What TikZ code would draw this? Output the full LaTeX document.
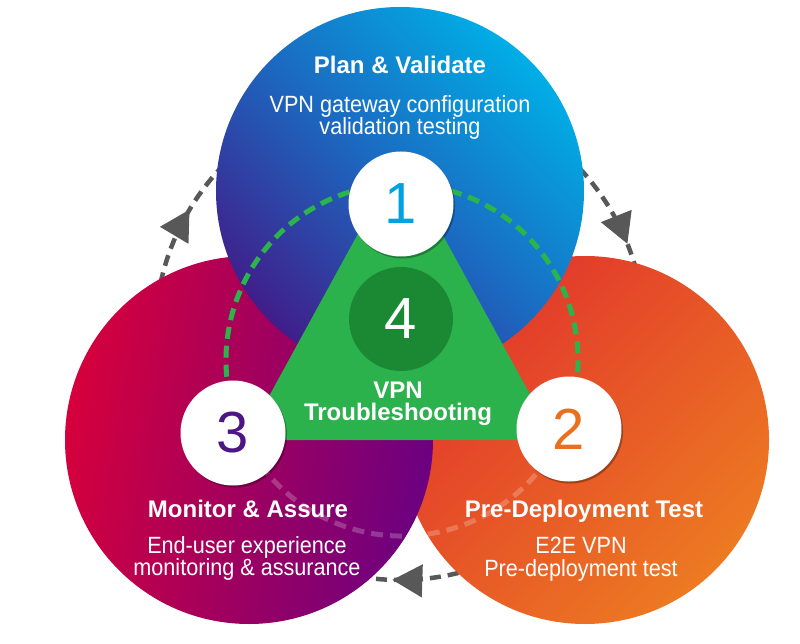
\documentclass[tikz,border=0pt]{standalone}
\usepackage{fontspec}
\setmainfont{Liberation Sans}
\newfontfamily\condfont{Liberation Sans}[FakeStretch=0.92]
\usetikzlibrary{arrows.meta,decorations.markings,shadows}
\definecolor{bluetop}{RGB}{0,174,230}
\definecolor{bluemid}{RGB}{28,104,192}
\definecolor{bluebot}{RGB}{64,30,138}
\definecolor{magleft}{RGB}{214,0,60}
\definecolor{magright}{RGB}{108,0,128}
\definecolor{orred}{RGB}{225,52,44}
\definecolor{ororange}{RGB}{237,122,34}
\definecolor{trigreen}{RGB}{43,178,76}
\definecolor{darkgreen}{RGB}{27,137,52}
\definecolor{dashgreen}{RGB}{44,180,76}
\definecolor{arrowgray}{RGB}{88,88,88}
\definecolor{numone}{RGB}{0,162,226}
\definecolor{numtwo}{RGB}{234,112,30}
\definecolor{numthree}{RGB}{78,22,132}
\begin{document}
\begin{tikzpicture}[x=1pt,y=-1pt,
  bigcirc/.style={circle, minimum size=368pt, inner sep=0pt},
  numcirc/.style={circle, fill=white, minimum size=105pt, inner sep=0pt,
    font=\fontsize{58}{58}\selectfont,
    drop shadow={shadow xshift=1.5pt, shadow yshift=-2pt, opacity=0.3, fill=black}},
  titletext/.style={anchor=base, text=white, inner sep=0pt, font=\fontsize{24}{26}\selectfont\bfseries},
  desctext/.style={anchor=base, text=white, inner sep=0pt, font=\condfont\fontsize{23.5}{25}\selectfont},
  cycarrow/.style={draw=arrowgray, color=arrowgray, line width=4.5pt, dash pattern=on 11pt off 7pt,
    decoration={markings, mark=at position #1 with {\arrow{Triangle[length=30pt,width=32pt]}}},
    postaction={decorate}},
  greendash/.style={draw=dashgreen, line width=5pt, dash pattern=on 12pt off 7pt},
  fadedash/.style={draw=white, draw opacity=0.22, line width=5pt, dash pattern=on 12pt off 7pt},
]
\useasboundingbox[fill=white] (0,0) rectangle (800,644);

% cycle arrows
\coordinate (cyc) at (400,335);
\draw[cycarrow=0.68] (cyc) ++(-47:245) arc[start angle=-47, end angle=-10, radius=245];
\draw[cycarrow=0.6] (cyc) ++(72:245) arc[start angle=72, end angle=105, radius=245];
\draw[cycarrow=0.6] (cyc) ++(188:245) arc[start angle=188, end angle=226, radius=245];

% big circles
\node[bigcirc, top color=orred, bottom color=ororange, shading angle=45] (orc) at (585,440) {};
\node[bigcirc, top color=magright, bottom color=magleft, shading angle=-100] (mgc) at (249,440) {};
\node[bigcirc, top color=bluetop, bottom color=bluebot, middle color=bluemid, shading angle=-45] (blc) at (400,191) {};

% dashed ring
\coordinate (dc) at (402,360);
\draw[greendash] (dc) ++(156:176) arc[start angle=156, end angle=382, radius=176];
\draw[fadedash] (dc) ++(22:176) arc[start angle=22, end angle=158, radius=176];

% triangle
\fill[trigreen] (400,157) -- (245,440) -- (555,440) -- cycle;
\node[circle, fill=darkgreen, minimum size=104pt, inner sep=0pt, text=white,
  font=\fontsize{58}{58}\selectfont] (n4) at (401,319) {4};

% number circles
\node[numcirc, text=numone] (n1) at (401,204) {1};
\node[numcirc, text=numtwo] (n2) at (569,429) {2};
\node[numcirc, text=numthree] (n3) at (233,433) {3};

% texts
\node[titletext] (t1) at (400,74) {Plan \& Validate};
\node[desctext] (d1a) at (400,113) {VPN gateway configuration};
\node[desctext] (d1b) at (400,135) {validation testing};

\node[titletext] (t3) at (248,517) {Monitor \& Assure};
\node[desctext] (d3a) at (247,553) {End-user experience};
\node[desctext] (d3b) at (247,575) {monitoring \& assurance};

\node[titletext] (t2) at (584,517) {Pre-Deployment Test};
\node[desctext] (d2a) at (581,553) {E2E VPN};
\node[desctext] (d2b) at (581,576) {Pre-deployment test};

\node[titletext] (t4a) at (398,398) {VPN};
\node[titletext] (t4b) at (398,420) {Troubleshooting};
\end{tikzpicture}
\end{document}
